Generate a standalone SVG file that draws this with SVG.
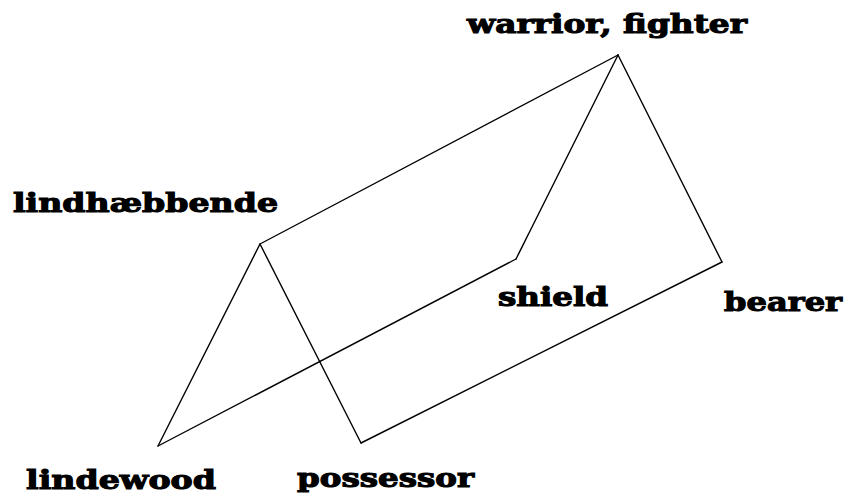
<svg xmlns="http://www.w3.org/2000/svg" width="848" height="497" viewBox="0 0 848 497">
<style>
.l{fill:none;stroke:#000;stroke-width:1.4;stroke-linecap:round;stroke-linejoin:round}
text{font-family:"DejaVu Serif","Liberation Serif",serif;font-weight:900;font-size:26px;fill:#000;stroke:#000;stroke-width:1.1}
</style>
<rect width="848" height="497" fill="#fff"/>
<g id="connectors">
<path class="l" d="M260 244L618 55"/>
<path class="l" d="M618 55L516 259"/>
<path class="l" d="M618 55L722 262"/>
<path class="l" d="M260 244L158 446"/>
<path class="l" d="M260 244L361 443"/>
<path class="l" d="M158 446L516 259"/>
<path class="l" d="M361 443L722 262"/>
</g>
<g id="warrior"><text x="467" y="33" textLength="280" lengthAdjust="spacingAndGlyphs">warrior, fighter</text></g>
<g id="lindhaebbende"><text x="13" y="212" textLength="265" lengthAdjust="spacingAndGlyphs">lindhæbbende</text></g>
<g id="shield"><text x="498" y="306" textLength="110" lengthAdjust="spacingAndGlyphs">shield</text></g>
<g id="bearer"><text x="724" y="311" textLength="118" lengthAdjust="spacingAndGlyphs">bearer</text></g>
<g id="lindewood"><text x="26" y="489" textLength="190" lengthAdjust="spacingAndGlyphs">lindewood</text></g>
<g id="possessor"><text x="297" y="487" textLength="177" lengthAdjust="spacingAndGlyphs">possessor</text></g>
</svg>
